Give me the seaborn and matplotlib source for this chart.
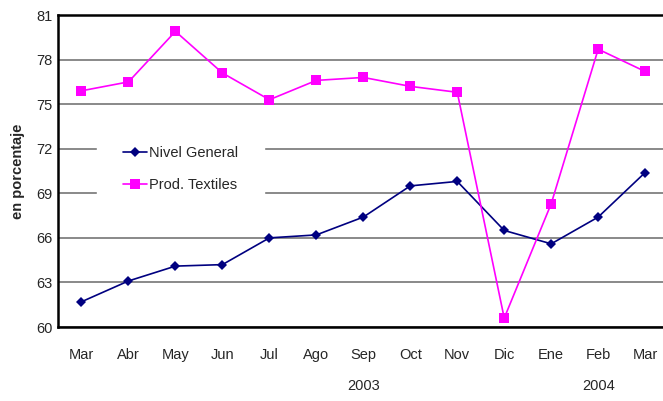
import pandas as pd
import seaborn as sns
import matplotlib
matplotlib.use("Agg")
import matplotlib.pyplot as plt  # noqa

months = ["Mar", "Abr", "May", "Jun", "Jul", "Ago", "Sep",
          "Oct", "Nov", "Dic", "Ene", "Feb", "Mar"]
nivel_general = [61.7, 63.1, 64.1, 64.2, 66.0, 66.2, 67.4,
                 69.5, 69.8, 66.5, 65.6, 67.4, 70.4]
prod_textiles = [75.9, 76.5, 79.9, 77.1, 75.3, 76.6, 76.8,
                 76.2, 75.8, 60.6, 68.3, 78.7, 77.2]
years = {"2003": 6, "2004": 11}

sns.set_style("white")
plt.rcParams["font.family"] = ["Liberation Sans", "DejaVu Sans"]

df = pd.DataFrame({"pos": range(len(months)),
                   "Nivel General": nivel_general,
                   "Prod. Textiles": prod_textiles})

fig = plt.figure(figsize=(6.63, 4.01), dpi=100)
ax = fig.add_axes([0.0875, 0.1845, 0.921, 0.778])

sns.lineplot(x="pos", y="Nivel General", data=df, ax=ax, color="#000080",
             marker="D", markersize=5, markeredgewidth=0, linewidth=1.2,
             label="Nivel General")
sns.lineplot(x="pos", y="Prod. Textiles", data=df, ax=ax, color="#FF00FF",
             marker="s", markersize=6.5, markeredgewidth=0, linewidth=1.2,
             label="Prod. Textiles")

ax.set_xlim(-0.5, len(months) - 0.5)
ax.set_ylim(60, 81)
ax.set_yticks(range(60, 82, 3))
ax.yaxis.grid(True, color="#808080", linewidth=1.3)
ax.set_axisbelow(True)
ax.set_xticks(range(len(months)))
ax.set_xticklabels(months, fontsize=10.5)
ax.tick_params(axis="y", labelsize=10.5, length=0, pad=4)
ax.tick_params(axis="x", length=0, pad=15)

for side in ["top", "left", "bottom"]:
    ax.spines[side].set_color("black")
    ax.spines[side].set_linewidth(1.8)
ax.spines["right"].set_visible(False)

ax.set_xlabel("")
ax.set_ylabel("en porcentaje", fontsize=10.5, fontweight="bold", labelpad=8)

for yr, pos in years.items():
    ax.text(pos, -0.19, yr, transform=ax.get_xaxis_transform(),
            ha="center", va="center", fontsize=10.5)

leg = ax.legend(loc="upper left", bbox_to_anchor=(0.064, 0.665), frameon=True,
                fontsize=10.5, handlelength=1.6, handletextpad=0.15,
                labelspacing=1.25, borderpad=1.8, borderaxespad=0,
                fancybox=False)
leg.get_frame().set_edgecolor("white")
leg.get_frame().set_facecolor("white")
leg.get_frame().set_alpha(1)

plt.savefig("out.png", dpi=100)
